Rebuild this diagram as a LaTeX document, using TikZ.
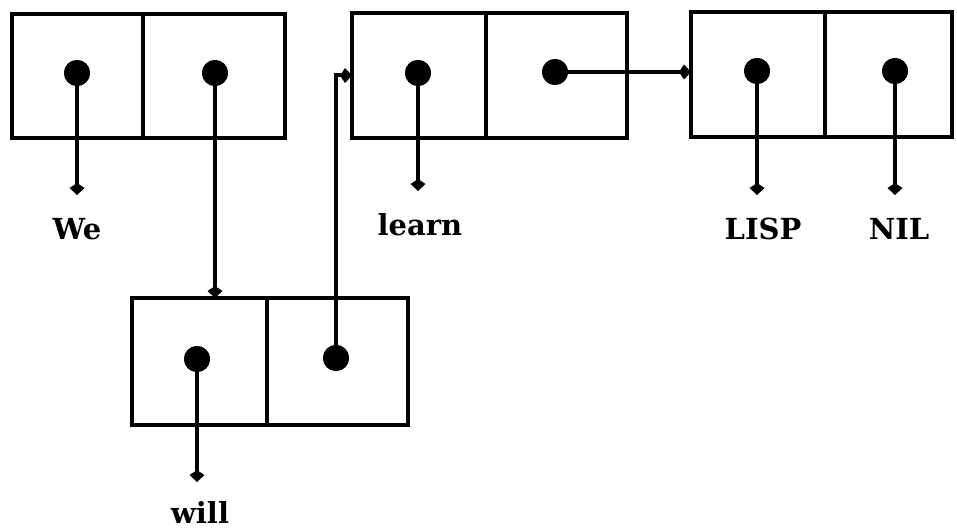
\documentclass[tikz,border=0pt]{standalone}
\usepackage{fontspec}
\setmainfont{DejaVu Serif}
\usetikzlibrary{arrows.meta}
\tikzset{
  cellbox/.style={draw, line width=4pt, rectangle, inner sep=0pt, outer sep=0pt},
  dotnode/.style={circle, fill=black, minimum size=26pt, inner sep=0pt},
  arr/.style={line width=4pt, -{Kite[length=12pt,width=15pt,inset=5pt]}},
  lbl/.style={anchor=base, font=\fontsize{29}{30}\selectfont\bfseries, inner sep=0pt,
              text height=23pt, text depth=0pt, outer ysep=22pt}
}
\begin{document}
\begin{tikzpicture}[x=1pt,y=-1pt]
\useasboundingbox (0,0) rectangle (957,529);
% cell A
\node[cellbox, minimum width=131pt, minimum height=124pt] (aL) at (77.5,76) {};
\node[cellbox, minimum width=142pt, minimum height=124pt] (aR) at (214,76) {};
% cell B
\node[cellbox, minimum width=134pt, minimum height=125pt] (bL) at (419,75.5) {};
\node[cellbox, minimum width=141pt, minimum height=125pt] (bR) at (556.5,75.5) {};
% cell C
\node[cellbox, minimum width=134pt, minimum height=125pt] (cL) at (758,74.5) {};
\node[cellbox, minimum width=127pt, minimum height=125pt] (cR) at (888.5,74.5) {};
% cell D
\node[cellbox, minimum width=135pt, minimum height=127pt] (dL) at (199.5,361.5) {};
\node[cellbox, minimum width=141pt, minimum height=127pt] (dR) at (337.5,361.5) {};
% labels
\node[lbl] (we) at (77,240) {We};
\node[lbl] (learn) at (420,236) {learn};
\node[lbl] (lisp) at (763,240) {LISP};
\node[lbl] (nil) at (899,240) {NIL};
\node[lbl, outer ysep=18pt] (will) at (200,523) {will};
% dots
\node[dotnode] (dA1) at (77,73) {};
\node[dotnode] (dA2) at (215,73) {};
\node[dotnode] (dB1) at (418,73) {};
\node[dotnode] (dB2) at (555,72) {};
\node[dotnode] (dC1) at (757,71) {};
\node[dotnode] (dC2) at (895,71) {};
\node[dotnode] (dD1) at (197,359) {};
\node[dotnode] (dD2) at (336,358) {};
% connectors
\draw[arr] (dA1.center) -- (dA1.center |- we.north);
\draw[arr] (dB1.center) -- (dB1.center |- learn.north);
\draw[arr] (dC1.center) -- (dC1.center |- lisp.north);
\draw[arr] (dC2.center) -- (dC2.center |- nil.north);
\draw[arr] (dD1.center) -- (dD1.center |- will.north);
\draw[arr] (dA2.center) -- (dA2.center |- dL.north);
\draw[arr] (dB2.center) -- (dB2.center -| cL.west);
\draw[arr] (dD2.center) |- (bL.west);
% redraw dots on top
\foreach \d in {dA1,dA2,dB1,dB2,dC1,dC2,dD1,dD2}
  \fill (\d) circle (13pt);
\end{tikzpicture}
\end{document}
